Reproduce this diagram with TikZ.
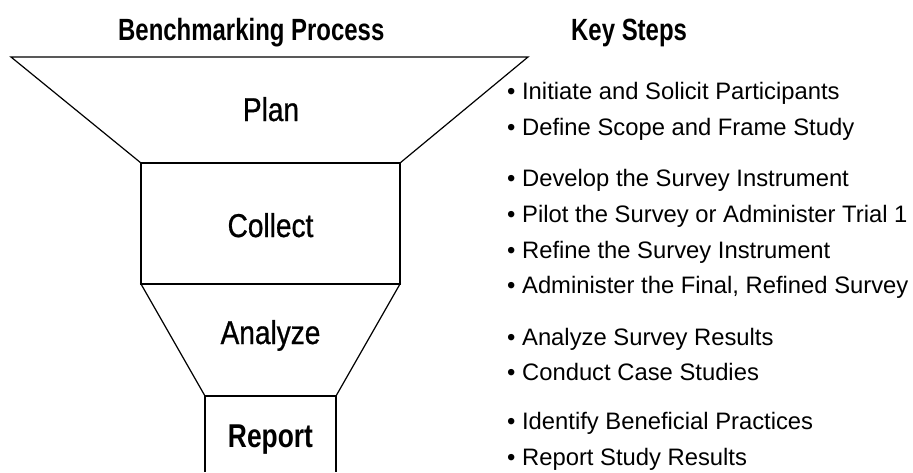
\documentclass[tikz,border=0pt]{standalone}
\usepackage{fontspec}
\setmainfont{Liberation Sans}
\newfontfamily\headfont{Liberation Sans}[FakeStretch=0.78]
\newfontfamily\stagefont{Liberation Sans}[FakeStretch=0.85,FakeBold=0.8]
\newfontfamily\stageboldfont{Liberation Sans}[FakeStretch=0.80]
\begin{document}
\begin{tikzpicture}[x=1pt,y=-1pt,
  outline/.style={draw=black,line width=1.2pt,line join=miter},
  heading/.style={anchor=base west,inner sep=0pt,font=\headfont\bfseries\fontsize{30.7}{36}\selectfont},
  stage/.style={anchor=base,inner sep=0pt,font=\stagefont\fontsize{33}{38}\selectfont},
  stagebold/.style={anchor=base,inner sep=0pt,font=\stageboldfont\bfseries\fontsize{33}{38}\selectfont},
  item/.style={anchor=base west,inner sep=0pt,font=\fontsize{23.8}{28}\selectfont}]
\useasboundingbox (0,0) rectangle (913,472);

% column headings
\node[heading] (hproc) at (118,40) {Benchmarking Process};
\node[heading] (hsteps) at (571,40) {Key Steps};

% funnel stages
\draw[outline] (11,57) -- (528,57) -- (400,163) -- (141,163) -- cycle;
\draw[outline] (141,163) rectangle (400,284);
\draw[outline] (141,284) -- (400,284) -- (336,396) -- (205,396) -- cycle;
\draw[outline] (205,472) -- (205,396) -- (336,396) -- (336,472);

\node[stage] (plan) at (271,121) {Plan};
\node[stage] (collect) at (270.5,237) {Collect};
\node[stage] (analyze) at (270.5,344) {Analyze};
\node[stagebold] (report) at (270.5,447) {Report};

% key steps per stage
\node[item] (s1) at (507,99) {• Initiate and Solicit Participants};
\node[item] (s2) at (507,135) {• Define Scope and Frame Study};
\node[item] (s3) at (507,186) {• Develop the Survey Instrument};
\node[item] (s4) at (507,222) {• Pilot the Survey or Administer Trial 1};
\node[item] (s5) at (507,258) {• Refine the Survey Instrument};
\node[item] (s6) at (507,293) {• Administer the Final, Refined Survey};
\node[item] (s7) at (507,345) {• Analyze Survey Results};
\node[item] (s8) at (507,380) {• Conduct Case Studies};
\node[item] (s9) at (507,429) {• Identify Beneficial Practices};
\node[item] (s10) at (507,465) {• Report Study Results};
\end{tikzpicture}
\end{document}
